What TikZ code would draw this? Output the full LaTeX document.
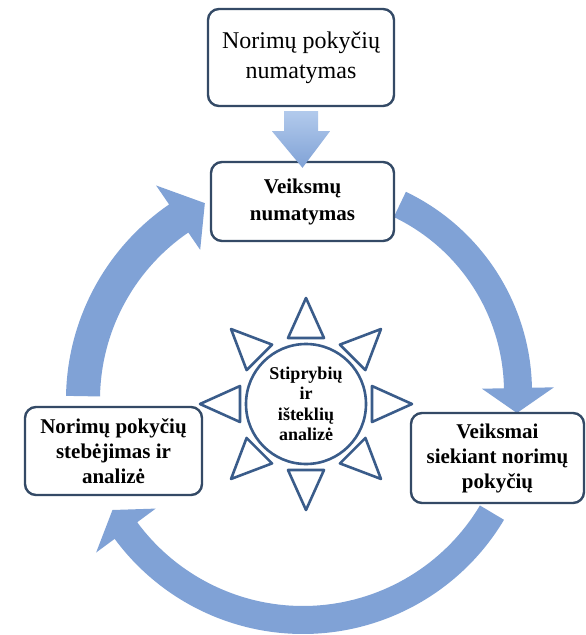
\documentclass[tikz,border=0pt]{standalone}
\usepackage{fontspec}
\setmainfont{Liberation Serif}
\usetikzlibrary{calc}
\definecolor{arrowblue}{RGB}{128,162,214}
\definecolor{arrowlight}{RGB}{178,202,236}
\definecolor{boxline}{RGB}{52,74,102}
\definecolor{sunline}{RGB}{58,92,138}
\pgfdeclarelayer{background}
\pgfdeclarelayer{bottom}
\pgfsetlayers{bottom,background,main}
\begin{document}
\begin{tikzpicture}[x=1pt,y=1pt,
  box/.style={draw=boxline, line width=2.4pt, rounded corners=11pt, fill=white,
    align=center, inner sep=0pt, text=black},
  cyclefont/.style={font=\bfseries\fontsize{21}{25}\selectfont},
  ray/.style={draw=sunline, line width=2.6pt, line join=round, fill=white},
  bigarrow/.style={fill=arrowblue}
]
\useasboundingbox (0,0) rectangle (586,-635);
\begin{pgfonlayer}{bottom}
\fill[white] (0,0) rectangle (586,-635);
\end{pgfonlayer}

% boxes
\node[box, minimum width=186pt, minimum height=97pt,
  font=\fontsize{24}{30}\selectfont] (top) at (301,-57.5) {Norimų pokyčių\\numatymas};
\node[box, minimum width=183pt, minimum height=79pt,
  font=\bfseries\fontsize{21}{27}\selectfont] (veik) at (302.5,-201.5) {Veiksmų\\numatymas};
\node[box, cyclefont, minimum width=177pt, minimum height=88pt] (obs) at (113.5,-451)
  {Norimų pokyčių\\stebėjimas ir\\analizė};
\node[box, cyclefont, minimum width=173pt, minimum height=90pt] (act) at (497.5,-458)
  {Veiksmai\\siekiant norimų\\pokyčių};

% sun
\node[circle, draw=sunline, line width=2.6pt, fill=white, minimum size=120pt, inner sep=0pt,
  align=center, font=\bfseries\fontsize{18}{20.5}\selectfont] (sun) at (306,-404)
  {Stiprybių\\ir\\išteklių\\analizė};
\begin{scope}[shift={(sun.center)}]
  \foreach \a in {0,45,...,315}{
    \draw[ray, rotate=\a] (66,-18) -- (106,0) -- (66,18) -- cycle;
  }
\end{scope}

% small arrow between top boxes
\coordinate (sa) at ($(top.south)+(0,-4)$);
\coordinate (sb) at ($(veik.north)+(0,-7)$);
\shade[top color=arrowlight, bottom color=arrowblue]
  ($(sa)+(-17,0)$) -- ($(sa)+(17,0)$) -- ($(sa)+(17,-20)$) -- ($(sa)+(29,-20)$)
  -- (sb) -- ($(sa)+(-29,-20)$) -- ($(sa)+(-17,-20)$) -- cycle;

% cycle arrows
\coordinate (ring) at (303,-400);
\coordinate (ringR) at (310,-392);
\begin{pgfonlayer}{background}
\begin{scope}[shift={(ringR)}]
  % veik -> act
  \fill[bigarrow] (64.4:222) arc[start angle=64.4, end angle=1.1, radius=222]
    -- (1.1:244) -- (-5.8:208) -- (1.1:172) -- (1.1:194)
    arc[start angle=1.1, end angle=64.4, radius=194] -- cycle;
\end{scope}
\begin{scope}[shift={(ring)}]
  % act -> obs
  \fill[bigarrow] (-30.8:234) arc[start angle=-30.8, end angle=-143.6, radius=234]
    -- (-143.6:257) -- (-150:220) -- (-143.6:183) -- (-143.6:206)
    arc[start angle=-143.6, end angle=-30.8, radius=206] -- cycle;
  % obs -> veik
  \fill[bigarrow] (179:237) arc[start angle=179, end angle=124.4, radius=237]
    -- (124.4:260) -- (116.5:220) -- (124.4:182) -- (124.4:203)
    arc[start angle=124.4, end angle=179, radius=203] -- cycle;
\end{scope}
\end{pgfonlayer}
\end{tikzpicture}
\end{document}
